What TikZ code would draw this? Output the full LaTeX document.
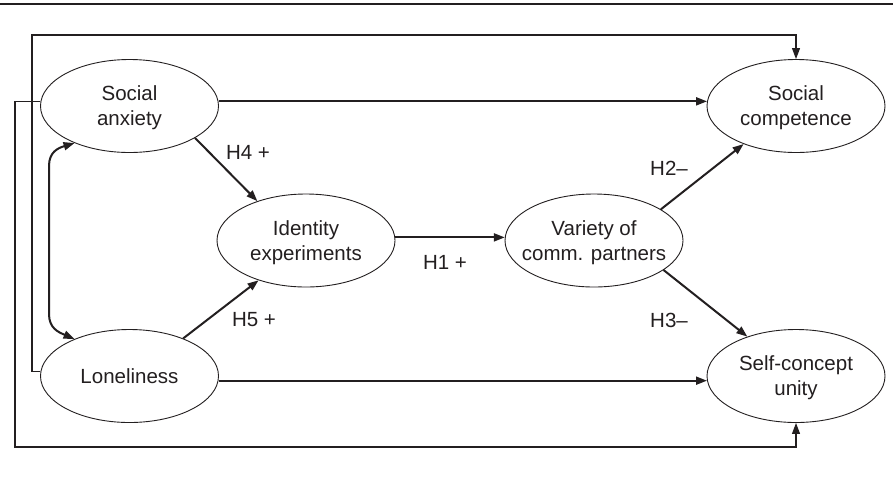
\documentclass[tikz,border=0pt]{standalone}
\usepackage{fontspec}
\setmainfont{Liberation Sans}
\usetikzlibrary{shapes.geometric,arrows.meta}
\definecolor{ink}{RGB}{35,31,32}
\begin{document}
\begin{tikzpicture}[x=1pt,y=-1pt,
  every node/.style={text=ink, font=\fontsize{20.5}{25}\selectfont},
  var/.style={draw=ink, line width=0.9pt, ellipse, minimum width=178pt, minimum height=93pt, inner sep=0pt},
  two/.style={align=center, yshift=-2pt},
  thickarrow/.style={draw=ink, line width=2pt, -{Triangle[length=11pt,width=8pt]}},
  thinarrow/.style={draw=ink, line width=1.1pt, -{Triangle[length=11pt,width=8pt]}},
  dblarrow/.style={draw=ink, line width=2pt, {Triangle[length=11pt,width=8pt]}-{Triangle[length=11pt,width=8pt]}},
  lab/.style={inner sep=0pt}]
\useasboundingbox (0,0) rectangle (893,480);
\fill[white] (0,0) rectangle (893,480);
\draw[ink, line width=2pt] (0,3.7) -- (893,3.7);

\node[var, label={[two]center:Social\\anxiety}] (sa) at (129.5,106) {};
\node[var, label={[align=center]center:Loneliness}] (lo) at (129.5,376) {};
\node[var, label={[two]center:Identity\\experiments}] (ie) at (306,240.5) {};
\node[var, label={[two]center:Variety of\\comm. partners}] (vc) at (594,240.5) {};
\node[var, label={[two]center:Social\\competence}] (sc) at (796,106) {};
\node[var, label={[two]center:Self-concept\\unity}] (su) at (796,376) {};

\coordinate (tl) at (32,35);
\coordinate (bl) at (15,447);

% long bypass paths
\draw[thinarrow] (lo.177) -| (tl) -| (sc.north);
\draw[thinarrow] (sa.177) -| (bl) -| (su.south);

% direct paths
\draw[thickarrow] (sa.3) -- (sc.177);
\draw[thickarrow] (lo.-3) -- (su.183);

% hypotheses
\draw[thickarrow] (sa.334) -- (ie.141);
\draw[thickarrow] (lo.35) -- (ie.220);
\draw[thickarrow] (ie.2) -- (vc.178);
\draw[thickarrow] (vc.25) -- (sc.216);
\draw[thickarrow] (vc.337) -- (su.141);

% correlation
\draw[dblarrow] (sa.214) .. controls (58,148) and (49,152) .. (49,166) -- (49,314) .. controls (49,328) and (58,332) .. (lo.146);

\node[lab] (h4) at (248,152) {H4 +};
\node[lab] (h5) at (254,320) {H5 +};
\node[lab] (h1) at (445,262) {H1 +};
\node[lab] (h2) at (669,168) {H2–};
\node[lab] (h3) at (669,320) {H3–};
\end{tikzpicture}
\end{document}
